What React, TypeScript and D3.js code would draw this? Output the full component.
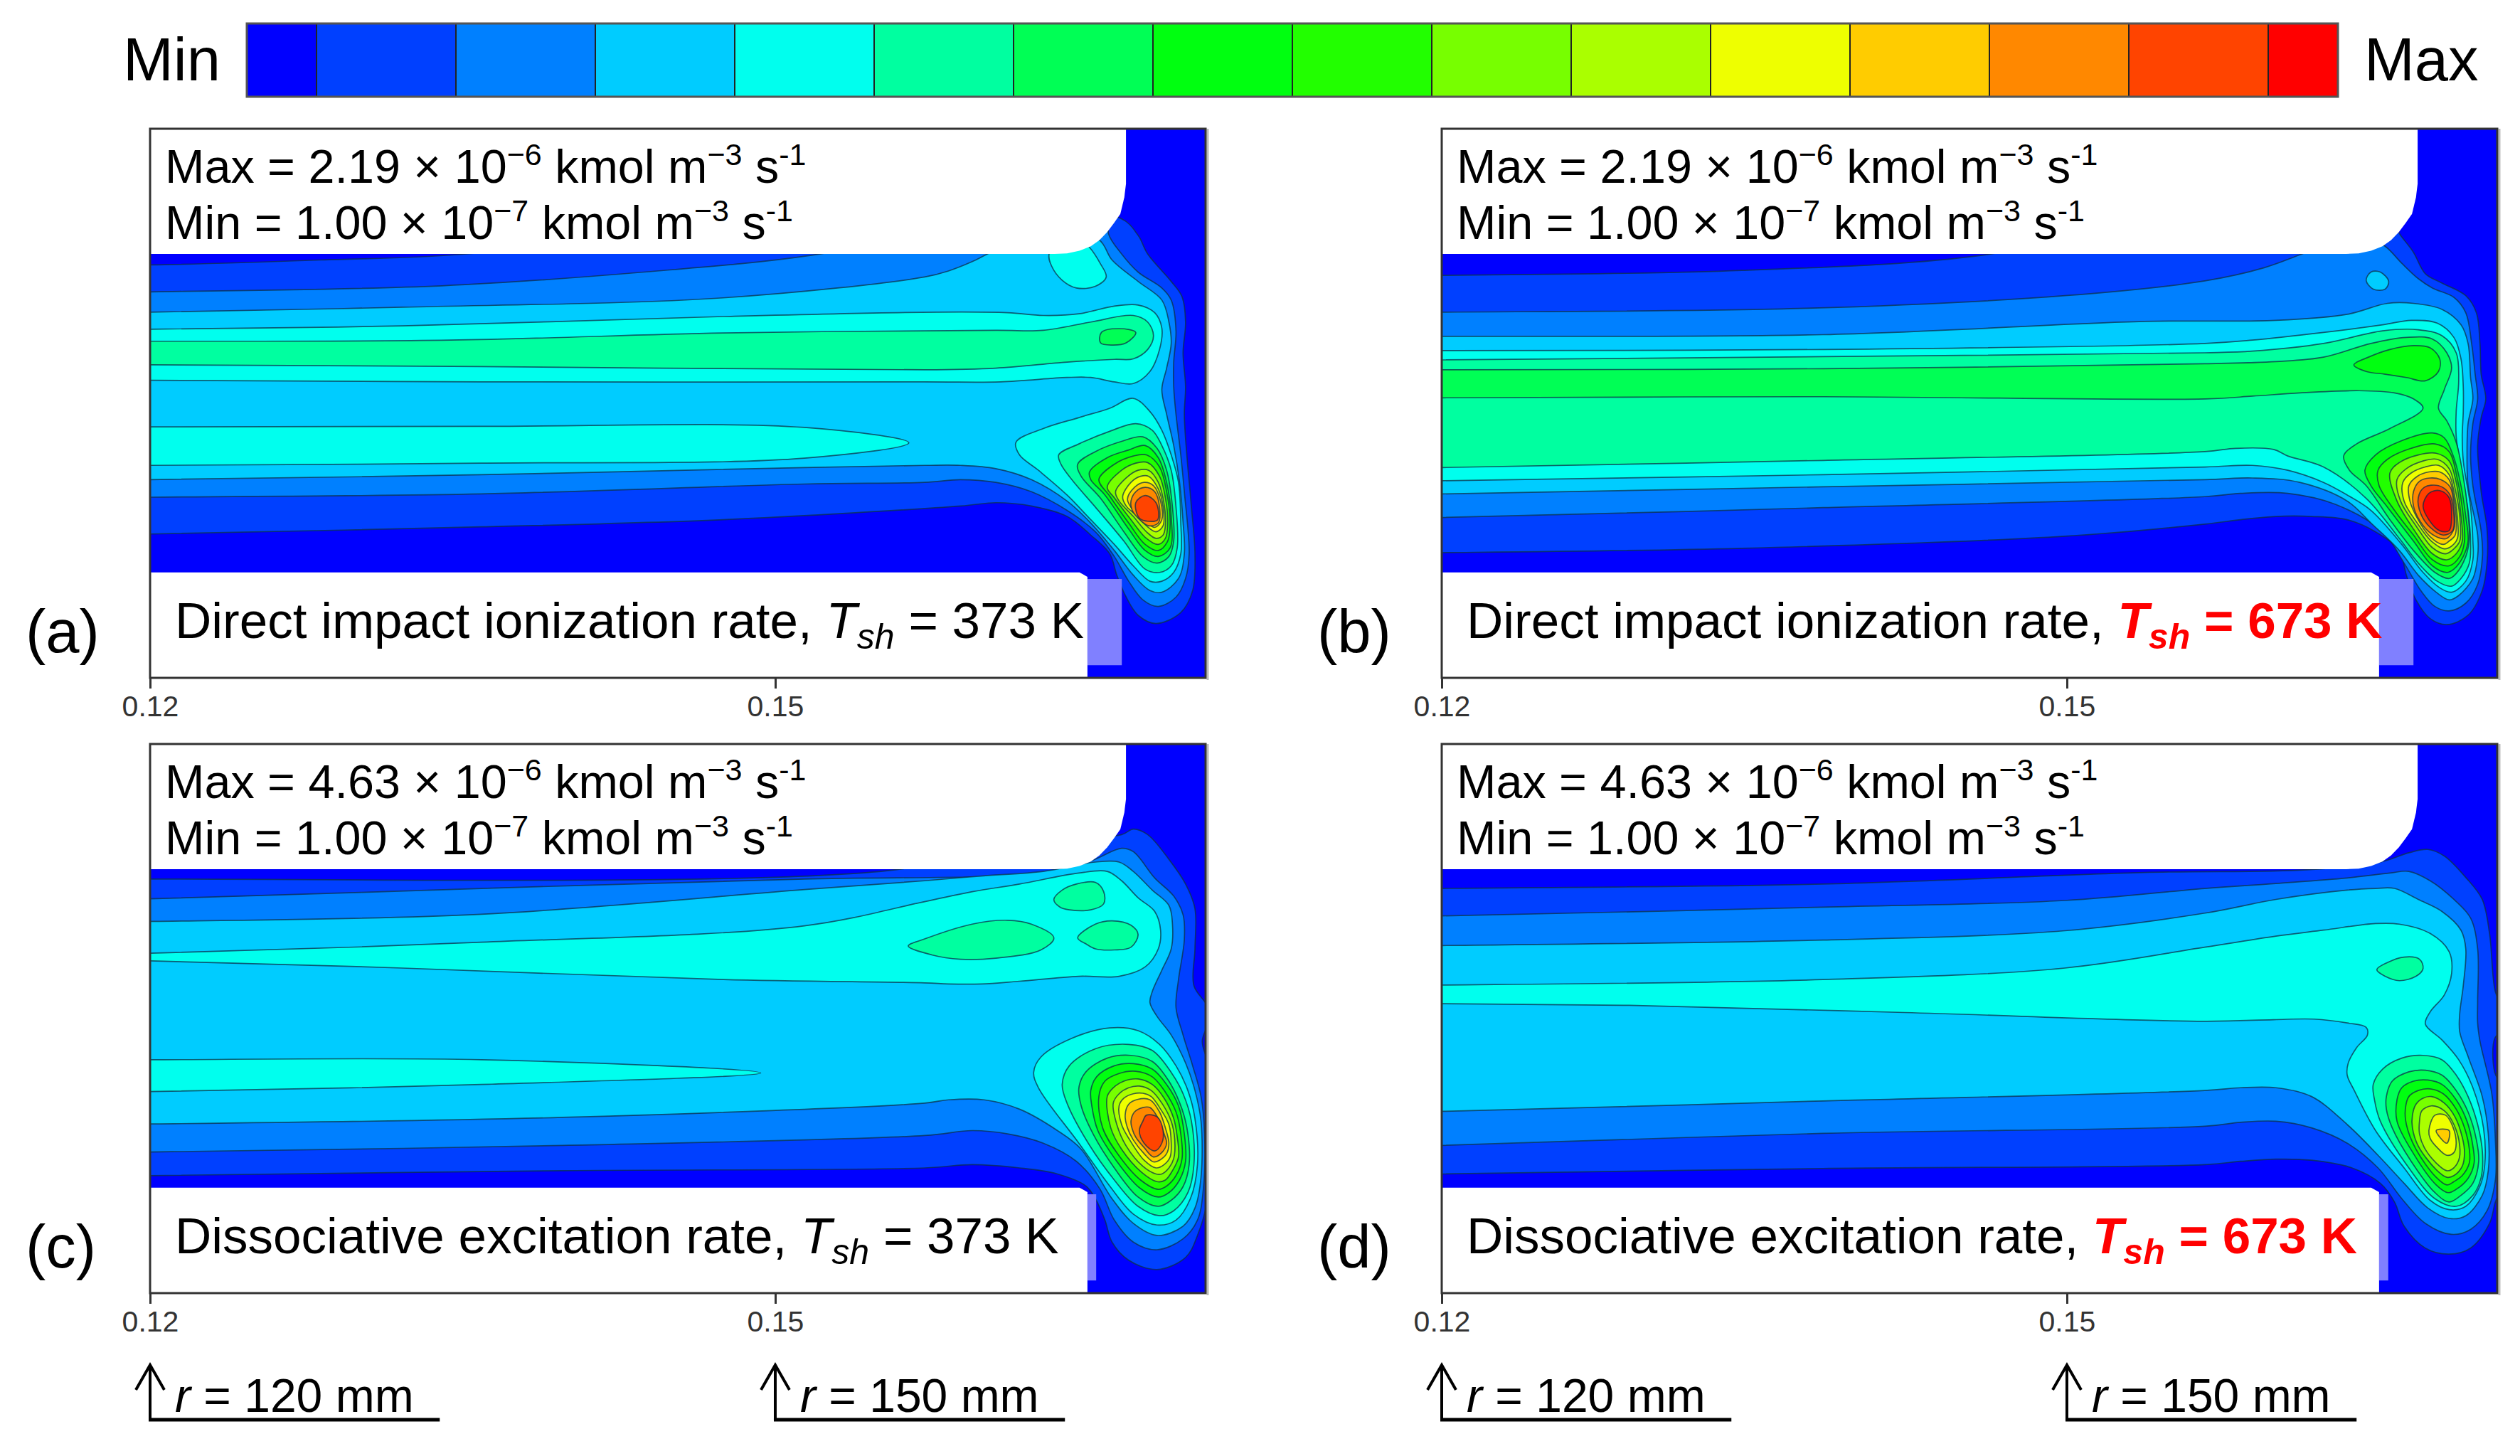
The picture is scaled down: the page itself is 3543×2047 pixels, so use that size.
import { useEffect, useRef } from 'react';
import * as d3 from 'd3';

type Pt = [number, number];
interface Contour {
  level: number;
  pts: Pt[];
}

// Colour bands of the legend, lowest to highest
const levelColors = [
  '#0000ff', '#0040ff', '#0080ff', '#00ccff', '#00ffee', '#00ffa0', '#00ff55', '#00ff10',
  '#22ff00', '#77ff00', '#aaff00', '#eeff00', '#ffcc00', '#ff8800', '#ff4400', '#ff0000',
];

const rTicks = [120, 150];
const rTickLabels = ['0.12', '0.15'];

const maxLabels = ['2.19', '2.19', '4.63', '4.63'];
const minLabels = ['1.00', '1.00', '1.00', '1.00'];
const captions = [
  'Direct impact ionization rate, ',
  'Direct impact ionization rate, ',
  'Dissociative excitation rate, ',
  'Dissociative excitation rate, ',
];
const sheathTemps = ['373', '673', '373', '673'];
const panelLetters = ['(a)', '(b)', '(c)', '(d)'];

// Contours: [r in mm, z in % of the plot height from its top edge]
const contoursA: Contour[] = [
  { level: 1, pts: [[116, 24.8], [120, 24.8], [128.2, 23.9], [135.2, 22.8], [145, 18], [160, 14], [166.56, 16.3], [167.41, 19.4], [167.87, 22.8], [169, 27.8], [169.52, 30.6], [169.69, 35.2], [169.57, 40.8], [169.69, 47], [169.63, 52], [169.75, 59.4], [169.97, 68.9], [170.14, 77.4], [170.03, 84.1], [169.46, 88.1], [168.27, 90.1], [167.41, 88.6], [166.84, 85.3], [166.39, 81.3], [166.05, 77.4], [165.14, 74], [164, 70.6], [162.29, 68.7], [160.6, 68.1], [158.9, 68.7], [147.5, 71.2], [135.9, 72.5], [120, 73.8], [116, 74]] },
  { level: 2, pts: [[116, 29.8], [120, 29.7], [134, 28.6], [143.7, 26.1], [151.8, 23], [160, 17], [166, 14], [165.99, 19.1], [166.62, 22.8], [167.41, 26.1], [168.55, 29], [169, 31.2], [169.23, 36.8], [169.12, 42.5], [169.12, 47], [169.23, 52], [169.46, 59.4], [169.63, 66.1], [169.86, 77.4], [169.69, 81.9], [169.23, 85.3], [168.38, 87], [167.64, 85.8], [166.96, 82.4], [166.27, 77.9], [165.36, 73.4], [164, 69.5], [162.29, 66.1], [160.58, 64.4], [158.88, 63.9], [157.17, 64.4], [151.4, 64.7], [135.9, 66.5], [120, 67.1], [116, 67.2]] },
  { level: 3, pts: [[116, 33.5], [120, 33.4], [132.1, 32.5], [147.5, 30.8], [157.17, 27], [158.31, 25.9], [159.45, 24.2], [160.19, 22.8], [163, 18], [165.53, 20.2], [166.16, 23.9], [167.41, 27.8], [168.55, 31.2], [168.89, 35.2], [169, 39.1], [168.78, 43.6], [168.55, 47.5], [168.78, 52], [169.12, 57.7], [169.4, 64.4], [169.57, 71.7], [169.63, 77.4], [169.35, 81.9], [168.55, 84.4], [167.98, 84.1], [167.18, 81.3], [166.27, 76.8], [165.14, 71.8], [164, 67.8], [162.29, 63.9], [160.58, 61.9], [158.88, 61.3], [157.17, 61.3], [151.4, 61.7], [135.9, 63], [120, 63.9], [116, 64]] },
  { level: 4, pts: [[163.14, 22.8], [163.26, 25], [163.77, 27.6], [164.45, 29], [165.36, 28.7], [165.88, 27], [165.59, 24.5], [165.08, 21.6], [164, 18]] },
  { level: 4, pts: [[116, 36.6], [120, 36.5], [132.1, 35.9], [147.5, 34.2], [157.74, 33.4], [161.15, 33.5], [162.86, 34], [164.57, 33.7], [166.27, 32.3], [167.41, 32.1], [168.21, 33.5], [168.55, 36.3], [168.44, 40.2], [167.98, 44.2], [167.18, 46.4], [166.27, 46.1], [165.14, 45.3], [164, 45.3], [160.81, 46.1], [157.17, 46.1], [135.9, 46.1], [120, 45.8], [116, 45.8]] },
  { level: 4, pts: [[116, 54.3], [120, 54.3], [135.9, 54.2], [151.4, 54.4], [156.41, 57.2], [151.4, 60], [135.9, 60.9], [120, 61.3], [116, 61.4]] },
  { level: 4, pts: [[161.55, 57.1], [162.86, 54.6], [164.57, 52.6], [166.05, 50.9], [167.18, 49.1], [167.98, 51.5], [168.55, 54.9], [169, 59.4], [169.35, 64.4], [169.46, 71.8], [169.46, 77.4], [169.12, 80.8], [168.55, 82.4], [167.98, 82.4], [167.18, 79.6], [166.27, 75.7], [165.14, 71.2], [164, 66.7], [162.63, 62.2], [161.72, 59.4]] },
  { level: 5, pts: [[116, 38.7], [120, 38.7], [134.4, 38.5], [147.5, 37.2], [160.58, 36.7], [162.86, 36.7], [165.14, 35.2], [167.18, 34], [167.87, 35.2], [168.15, 37.7], [167.87, 40.2], [167.18, 41.9], [166.27, 42], [164, 42.5], [160.58, 43.6], [157.17, 43.9], [135.9, 43.3], [120, 43], [116, 43]] },
  { level: 5, pts: [[163.6, 59.4], [164.57, 57.4], [166.05, 55.1], [167.3, 53.7], [168.09, 54.9], [168.55, 57.7], [169, 62.2], [169.23, 68.9], [169.29, 76.3], [169, 79.6], [168.44, 80.8], [167.75, 80.2], [166.73, 75.1], [165.36, 68.9], [164.23, 63.9], [163.71, 61.1]] },
  { level: 6, pts: [[165.65, 37.1], [166.5, 36.4], [167.3, 37.1], [166.84, 39], [166.16, 39.4], [165.61, 39]] },
  { level: 6, pts: [[164.51, 61.1], [165.36, 58.8], [166.73, 56.8], [167.64, 56.1], [168.32, 58.2], [168.78, 62.2], [169.06, 68.9], [169.12, 75.1], [168.89, 77.9], [168.32, 79.1], [167.64, 77.9], [166.73, 73.4], [165.59, 67.2], [164.68, 63.3]] },
  { level: 7, pts: [[165.08, 62.5], [165.93, 59.9], [166.96, 58.5], [167.75, 57.7], [168.38, 59.9], [168.78, 64.4], [169, 70.6], [168.95, 76.3], [168.38, 77.9], [167.75, 76.8], [166.96, 72.9], [165.82, 66.7], [165.14, 63.9]] },
  { level: 8, pts: [[165.53, 63.9], [166.27, 61.1], [167.18, 59.6], [167.81, 59.4], [168.44, 61.6], [168.78, 66.1], [168.95, 71.8], [168.83, 75.1], [168.38, 76.8], [167.75, 75.7], [166.96, 71.8], [166.05, 66.9]] },
  { level: 9, pts: [[165.93, 65.3], [166.62, 62.2], [167.3, 60.9], [167.87, 60.8], [168.44, 63.3], [168.72, 67.2], [168.83, 71.8], [168.72, 74.6], [168.38, 75.7], [167.81, 74.6], [167.07, 71.2], [166.27, 67.2]] },
  { level: 10, pts: [[166.33, 66.1], [166.84, 63.6], [167.41, 62.2], [167.92, 62.2], [168.38, 64.4], [168.66, 68.4], [168.72, 72.3], [168.61, 74], [168.27, 74.6], [167.81, 73.4], [167.18, 70.6], [166.5, 67.8]] },
  { level: 11, pts: [[166.67, 67], [167.07, 64.4], [167.53, 63.3], [167.92, 63.3], [168.38, 65.6], [168.61, 68.9], [168.61, 72.3], [168.27, 73.4], [167.81, 72.3], [167.3, 70.3], [166.84, 68.7]] },
  { level: 12, pts: [[166.9, 67.5], [167.24, 65.3], [167.7, 64.4], [168.15, 65], [168.49, 67.8], [168.55, 71.2], [168.21, 72.6], [167.75, 71.5], [167.24, 69.8]] },
  { level: 13, pts: [[167.07, 67.8], [167.3, 66.1], [167.75, 65.3], [168.21, 66.1], [168.44, 68.9], [168.38, 71.8], [167.92, 72.3], [167.41, 70.9], [167.13, 69.5]] },
  { level: 14, pts: [[167.3, 68.1], [167.75, 66.8], [168.27, 68.1], [168.35, 71.2], [167.92, 71.5], [167.47, 70.9]] },
];

const contoursB: Contour[] = [
  { level: 1, pts: [[116, 26.8], [120, 26.7], [134.4, 25.8], [146, 23], [155, 16], [165, 14], [166.01, 19.4], [166.63, 22.5], [167.2, 26.4], [168, 28.1], [169.14, 30.4], [169.65, 33.5], [169.82, 39.1], [169.88, 44.7], [170.1, 49.2], [169.88, 52.6], [169.71, 57.7], [169.88, 66.1], [170.16, 72.9], [170.16, 79.1], [169.93, 84.1], [169.25, 88.6], [168.23, 90.3], [167.43, 89.2], [166.75, 85.8], [166.29, 81.3], [165.95, 76.8], [164.81, 73.4], [163.45, 71.2], [161.74, 70.6], [160.03, 70.6], [158.33, 71.2], [156.62, 72], [149.9, 74.2], [134.4, 76.4], [120, 77.2], [116, 77.3]] },
  { level: 2, pts: [[116, 33.5], [120, 33.4], [137.5, 32.7], [149.9, 30.4], [156.62, 27.7], [159.47, 25.3], [161.29, 22.8], [164, 19], [165.27, 21.4], [166.07, 24.5], [166.86, 27.3], [167.54, 29], [168.57, 30.7], [169.14, 33.5], [169.42, 39.1], [169.59, 44.7], [169.71, 49.2], [169.48, 53.7], [169.37, 59.4], [169.48, 65], [169.88, 73.4], [169.94, 77.9], [169.71, 83], [169.14, 86.4], [168.34, 87.8], [167.66, 87], [166.98, 84.1], [166.18, 79.1], [165.15, 73.4], [162.88, 68.4], [160.6, 66.4], [158.33, 66.4], [156.62, 67], [138.3, 69], [120, 70.8], [116, 70.9]] },
  { level: 3, pts: [[116, 37.8], [120, 37.8], [138.3, 37.5], [153.7, 35.1], [160.03, 34.9], [163.45, 33.8], [165.38, 31.8], [166.63, 31.8], [168, 32.9], [168.91, 35.7], [169.25, 39.1], [169.37, 45.3], [169.48, 49.2], [169.25, 53.7], [169.2, 59.4], [169.25, 65], [169.71, 74], [169.71, 77.9], [169.48, 81.9], [168.8, 85], [168.34, 85.8], [167.72, 84.4], [166.86, 81.3], [165.95, 76.8], [164.59, 71.8], [163.45, 67.8], [161.17, 64.4], [158.9, 63.6], [156.62, 63.9], [138.3, 65.2], [120, 66.5], [116, 66.6]] },
  { level: 3, pts: [[164.36, 27.6], [164.59, 26.1], [165.04, 26.1], [165.44, 27.8], [165.27, 29.2], [164.7, 29.2]] },
  { level: 4, pts: [[116, 40.4], [120, 40.4], [138.3, 40.2], [156.62, 39.1], [158.9, 38.5], [162.31, 37.1], [165.15, 35.7], [166.52, 34.9], [167.77, 35.4], [168.57, 38], [168.91, 41.9], [169.02, 47], [169.02, 51.5], [168.97, 56], [169.02, 60.5], [169.37, 68.9], [169.48, 75.1], [169.48, 78.5], [169.14, 82.4], [168.46, 84.4], [167.89, 83.6], [167.09, 80.8], [166.07, 75.7], [164.59, 69.5], [163.45, 66.7], [162.31, 64.4], [160.6, 62.2], [158.9, 61.3], [156.62, 61.6], [138.3, 63], [120, 64.1], [116, 64.2]] },
  { level: 5, pts: [[116, 42.1], [120, 42.1], [138.3, 41.5], [156.62, 40.8], [158.9, 40.5], [162.31, 39.1], [165.15, 36.8], [166.86, 36.6], [168, 37.7], [168.68, 40.8], [168.8, 45.9], [168.68, 51.5], [168.68, 56], [168.85, 60.5], [169.25, 69.5], [169.37, 75.1], [169.31, 79.1], [168.91, 81.9], [168.46, 83.3], [167.77, 82.4], [166.86, 79.1], [165.95, 74.6], [164.36, 67.3], [162.31, 61.6], [160.6, 59.6], [159.92, 58.4], [158.1, 58.2], [156.62, 58.8], [138.3, 60.4], [120, 61.7], [116, 61.8]] },
  { level: 6, pts: [[116, 43.9], [120, 43.9], [138.3, 43.7], [156.62, 42.8], [160.03, 42.4], [162.31, 41.6], [164.59, 39.1], [166.29, 38], [167.54, 38.3], [168.23, 40.8], [168.46, 43.6], [168.11, 47.5], [167.83, 50.9], [168.23, 53.2], [168.68, 57.1], [168.97, 62.2], [169.25, 70.1], [169.31, 74.6], [169.14, 77.9], [168.68, 81], [168.34, 81.9], [167.66, 80.8], [166.63, 76.8], [165.5, 71.2], [164.36, 65], [163.56, 62.2], [163.28, 59.6], [163.9, 57.4], [165.5, 54.6], [167.09, 50.9], [166.63, 49.2], [165.72, 48.1], [164.02, 47.7], [161.17, 48.1], [158.9, 48.7], [156.62, 49.2], [138.3, 48.8], [120, 49], [116, 49]] },
  { level: 7, pts: [[163.77, 43], [164.47, 41.6], [165.5, 40.2], [166.63, 39.5], [167.43, 39.9], [167.89, 41.9], [167.83, 44.2], [167.2, 45.9], [166.29, 45.3], [165.27, 44.7], [164.36, 44.2]] },
  { level: 7, pts: [[164.3, 62.2], [164.81, 59.4], [166.07, 56.8], [167.54, 55.4], [168.11, 56.3], [168.57, 59.9], [168.91, 65], [169.14, 70.6], [169.25, 75.1], [169.02, 77.9], [168.57, 80.2], [168.23, 80.8], [167.54, 79.6], [166.63, 75.1], [165.38, 68.9], [164.59, 65]] },
  { level: 8, pts: [[164.93, 62.2], [165.38, 60.2], [166.52, 58.2], [167.66, 57.4], [168.34, 58.8], [168.74, 63.9], [169.02, 70.6], [169.08, 75.1], [168.85, 77.9], [168.34, 79.6], [167.54, 78.5], [166.63, 74], [165.72, 69.5], [164.98, 65]] },
  { level: 9, pts: [[165.5, 62.7], [165.95, 60.8], [166.86, 59.4], [167.72, 59.1], [168.34, 60.5], [168.68, 64.4], [168.91, 70.6], [168.97, 75.1], [168.68, 77.4], [168.23, 78.5], [167.54, 77.4], [166.63, 72.9], [165.84, 67.8]] },
  { level: 10, pts: [[165.84, 63.9], [166.29, 61.9], [167.09, 60.5], [167.77, 60.2], [168.34, 61.9], [168.63, 65.6], [168.85, 70.6], [168.85, 75.1], [168.57, 76.5], [168.17, 77.4], [167.54, 76.3], [166.75, 72.3], [166.01, 67.8]] },
  { level: 11, pts: [[166.12, 64.4], [166.52, 62.7], [167.2, 61.6], [167.83, 61.3], [168.34, 63], [168.57, 66.1], [168.74, 70.9], [168.74, 74.6], [168.46, 76], [168.11, 76.5], [167.49, 75.1], [166.81, 71.8], [166.18, 67.8]] },
  { level: 12, pts: [[166.41, 65], [166.81, 63.3], [167.37, 62.5], [167.89, 62.5], [168.34, 63.9], [168.57, 67.2], [168.68, 70.9], [168.63, 74], [168.34, 75.1], [168.06, 75.7], [167.43, 74.3], [166.81, 70.9], [166.46, 67.8]] },
  { level: 13, pts: [[166.63, 66.1], [166.92, 64.2], [167.43, 63.6], [167.94, 63.9], [168.4, 65.3], [168.57, 68.9], [168.57, 72.9], [168.23, 74.6], [167.94, 74.6], [167.37, 73.4], [166.86, 70.9], [166.63, 68.7]] },
  { level: 14, pts: [[166.86, 67.2], [167.15, 65.3], [167.83, 65], [168.34, 66.4], [168.55, 69.5], [168.51, 73.2], [168.06, 74], [167.43, 72.6], [166.98, 70.1]] },
  { level: 15, pts: [[167.09, 68.7], [167.37, 66.4], [167.89, 65.9], [168.34, 67.2], [168.46, 70.6], [168.34, 73.2], [167.89, 73.2], [167.37, 71.2]] },
];

const contoursC: Contour[] = [
  { level: 1, pts: [[116, 24.7], [120, 24.6], [155.3, 23.1], [162, 18], [166.62, 16.5], [167.18, 15.5], [167.87, 16.5], [168.89, 21], [169.69, 25.5], [170.14, 30], [170.14, 37.3], [170.09, 44], [170.77, 48], [170.77, 50.8], [170.49, 54.1], [170.77, 58.6], [170.77, 82.2], [170.26, 89.5], [169.69, 93.5], [168.32, 95.7], [166.96, 94], [166.16, 90.7], [165.82, 86.7], [165.36, 82.8], [164.91, 80.5], [163.54, 78.3], [161.72, 77.2], [159.45, 76.6], [157.17, 77.2], [139.8, 77.7], [120, 78.6], [116, 78.7]] },
  { level: 2, pts: [[116, 28.3], [120, 28.2], [135.9, 26.3], [151.4, 24.6], [163, 23.4], [165.14, 21.3], [166.62, 19], [167.18, 19.6], [168.21, 24.4], [169.12, 27.7], [169.57, 31.1], [169.63, 35.6], [169.35, 42.9], [169.23, 48], [169.57, 53], [170.03, 58.6], [170.43, 64.2], [170.6, 71], [170.54, 81.1], [170.26, 86.7], [169.57, 90.1], [168.32, 92.1], [167.18, 90.7], [166.27, 86.7], [165.59, 81.1], [164.45, 76], [162.86, 72.7], [161.15, 71], [159.45, 70.4], [157.17, 71.3], [139.8, 73.1], [120, 74.3], [116, 74.4]] },
  { level: 3, pts: [[116, 32.4], [120, 32.3], [135.9, 31], [151.4, 26.5], [157.17, 24.9], [160, 24], [162.86, 23.2], [165.36, 21.5], [166.5, 21.5], [167.18, 23.2], [168.09, 26.6], [168.89, 29.4], [169.06, 32.8], [169, 37.3], [168.55, 41.2], [168.09, 45.1], [167.98, 47.1], [168.32, 49.6], [169, 53], [169.69, 58.1], [170.14, 63.1], [170.43, 68.7], [170.43, 78.9], [170.14, 84.5], [169.57, 87.8], [168.32, 89.5], [167.18, 87.3], [166.16, 82.8], [164.68, 73.8], [163.54, 70.4], [161.72, 66.5], [160.02, 64.8], [158.31, 64.8], [157.17, 65.4], [139.8, 68], [120, 69.2], [116, 69.3]] },
  { level: 4, pts: [[116, 38.2], [120, 38.1], [135.9, 36.1], [151.4, 33.1], [157.17, 28.7], [159.45, 26.9], [161.72, 25.5], [164.57, 23.5], [165.93, 23.2], [166.62, 24.9], [167.41, 28], [168.21, 30.5], [168.49, 33.9], [168.38, 37.3], [167.75, 40.6], [166.5, 42.3], [164.57, 42.3], [161.72, 43.2], [159.9, 43.7], [158.31, 43.7], [157.17, 43.5], [147.5, 42.9], [132.1, 40.8], [120, 39.5], [116, 39.4]] },
  { level: 4, pts: [[116, 57.5], [120, 57.5], [135.9, 57.5], [149.3, 59.9], [135.9, 62], [120, 63.3], [116, 63.4]] },
  { level: 4, pts: [[162.4, 59.8], [162.75, 57], [164.23, 53.6], [166.05, 51.7], [167.41, 52.2], [168.44, 54.7], [169.23, 58.6], [169.8, 63.1], [170.14, 68.2], [170.26, 76.6], [169.92, 82.8], [169.23, 86.7], [168.32, 87.6], [167.18, 85.6], [166.05, 80.5], [164.57, 72.7], [162.63, 62.6]] },
  { level: 5, pts: [[163.37, 28.3], [163.77, 26.6], [164.45, 25.5], [165.36, 25.2], [165.76, 26.9], [165.76, 29.1], [165.14, 30.2], [164.11, 30.2], [163.66, 29.7]] },
  { level: 5, pts: [[164.51, 35.3], [165.36, 32.8], [166.16, 32.2], [167.07, 33], [167.41, 34.7], [167.07, 37], [166.27, 37.5], [165.36, 37.3], [164.91, 36.4]] },
  { level: 5, pts: [[156.38, 36.8], [157.17, 35.5], [159.45, 32.8], [161.15, 32.1], [162.29, 32.8], [163.37, 35.3], [162.75, 37.5], [160.58, 39], [158.88, 39.2], [157.51, 38.4]] },
  { level: 5, pts: [[163.77, 62], [164.11, 58.6], [165.36, 55.5], [166.96, 54.7], [168.09, 55.8], [169, 59.8], [169.57, 63.7], [169.97, 68.7], [170.09, 76.6], [169.8, 81.7], [169.12, 85], [168.44, 85.9], [167.41, 84.2], [166.27, 79.4], [165.02, 72.7], [164, 65.4]] },
  { level: 6, pts: [[164.57, 62.6], [164.91, 59.7], [165.93, 57.2], [167.07, 56.7], [168.09, 57.8], [168.89, 61.4], [169.52, 66.5], [169.8, 71], [169.86, 76.6], [169.57, 80.6], [169, 83.1], [168.38, 84.2], [167.41, 82.5], [166.27, 77.2], [165.25, 71], [164.68, 65.9]] },
  { level: 7, pts: [[165.14, 63.1], [165.42, 60.6], [166.27, 58.6], [167.18, 58.2], [168.09, 59.2], [168.78, 62], [169.35, 65.9], [169.63, 71], [169.69, 76], [169.4, 79.4], [168.89, 81.7], [168.38, 82.5], [167.47, 80.8], [166.39, 76], [165.48, 70.4], [165.19, 65.9]] },
  { level: 8, pts: [[165.53, 64.2], [165.82, 61.4], [166.5, 60], [167.3, 59.6], [168.09, 60.6], [168.72, 63.4], [169.23, 67], [169.46, 71], [169.52, 75.5], [169.23, 78.6], [168.78, 80.5], [168.38, 81.1], [167.53, 79.4], [166.5, 75], [165.71, 69.9]] },
  { level: 9, pts: [[165.93, 64.2], [166.22, 62.6], [166.73, 61.4], [167.41, 61], [168.09, 62], [168.66, 64.5], [169.12, 68.2], [169.29, 71.6], [169.35, 75.2], [169.06, 77.7], [168.72, 79.4], [168.32, 79.7], [167.58, 78], [166.62, 73.8], [166.1, 69.9]] },
  { level: 10, pts: [[166.22, 65.4], [166.5, 63.7], [166.96, 62.6], [167.47, 62.3], [168.04, 63.1], [168.55, 65.4], [169, 68.7], [169.17, 72.1], [169.12, 75.5], [168.89, 77.2], [168.55, 78.3], [168.27, 78.3], [167.64, 76.9], [166.84, 73.2], [166.39, 69.3]] },
  { level: 11, pts: [[166.5, 65.9], [166.73, 64.5], [167.18, 63.7], [167.64, 63.6], [168.04, 64.2], [168.49, 66.5], [168.89, 69.3], [169, 72.7], [168.95, 75.2], [168.66, 76.6], [168.27, 77.2], [167.7, 75.8], [167.01, 72.1], [166.62, 69.3]] },
  { level: 12, pts: [[166.79, 67.6], [166.96, 65.6], [167.41, 64.7], [167.98, 64.8], [168.44, 67], [168.72, 69.9], [168.89, 72.7], [168.78, 74.6], [168.44, 75.8], [168.15, 76.1], [167.7, 74.6], [167.18, 72.1], [166.9, 69.9]] },
  { level: 13, pts: [[167.07, 68.7], [167.24, 67], [167.64, 66.2], [167.98, 66.2], [168.38, 68.2], [168.66, 71], [168.78, 72.7], [168.55, 74.4], [168.15, 75.2], [167.7, 73.5], [167.3, 71.6], [167.13, 70.1]] },
  { level: 14, pts: [[167.47, 70.4], [167.64, 68.7], [167.81, 67.6], [168.32, 67.9], [168.61, 70.4], [168.55, 72.7], [168.21, 74.1], [167.7, 72.7]] },
];

const contoursD: Contour[] = [
  { level: 1, pts: [[116, 26.4], [120, 26.3], [138.3, 25.5], [153.7, 23.4], [161.5, 22.9], [165.04, 21.5], [166.41, 19.8], [167.32, 19.2], [168.11, 20.4], [169.14, 24.3], [169.93, 28.3], [170.28, 34.5], [170.56, 45.1], [170.96, 48.5], [170.96, 51.9], [170.53, 53.6], [170.53, 59.8], [170.96, 63.1], [170.96, 79.4], [170.56, 83.4], [170.28, 87.3], [169.37, 91.8], [168.34, 92.9], [167.2, 91.8], [166.18, 87.8], [165.72, 83.4], [165.04, 80], [163.68, 77.2], [161.74, 75.8], [160.03, 75.6], [158.33, 76], [156.62, 76.6], [138.3, 77.3], [120, 78.3], [116, 78.4]] },
  { level: 2, pts: [[116, 31.4], [120, 31.3], [138.3, 29.7], [149.9, 28.5], [156.62, 26.3], [160.03, 25.4], [163.45, 24.4], [165.5, 23.5], [166.41, 23.2], [167.43, 24.9], [168.57, 28.3], [169.37, 31.7], [169.71, 37.3], [169.71, 46.8], [169.71, 50.8], [169.82, 54.1], [170.39, 63.7], [170.56, 72.1], [170.56, 79.4], [170.16, 85], [169.37, 88.4], [168.45, 89.3], [167.2, 87.3], [166.07, 82.8], [164.93, 77.2], [163.45, 72.7], [161.74, 69.9], [160.03, 68.7], [158.33, 68.9], [156.62, 69.6], [138.3, 70.9], [120, 73.1], [116, 73.2]] },
  { level: 3, pts: [[116, 36.8], [120, 36.7], [138.3, 35.7], [149.9, 34], [156.62, 30.8], [160.03, 28.3], [163.45, 26.6], [164.81, 26.3], [165.72, 26.3], [166.86, 28.3], [168, 30.5], [168.91, 33.9], [169.14, 37.3], [169.02, 44], [168.85, 49.1], [168.85, 52.4], [169.25, 56.9], [169.93, 64.2], [170.22, 71], [170.22, 77.7], [169.93, 82.2], [169.14, 85.9], [168.34, 86.4], [167.32, 84.5], [166.18, 80], [164.93, 74.9], [163.45, 69.3], [161.74, 64.2], [160.03, 62.6], [158.33, 62.6], [156.62, 63.1], [138.3, 65], [120, 66.9], [116, 67]] },
  { level: 4, pts: [[116, 44], [120, 43.9], [138.3, 42.9], [149.9, 40.8], [156.62, 37], [160.03, 35], [162.31, 33.9], [164.81, 32.7], [165.95, 32.8], [167.43, 34.5], [168.34, 37.8], [168.46, 41.8], [168.11, 45.7], [167.43, 48.8], [167.2, 51], [168, 53.9], [168.8, 57.5], [169.48, 62.6], [169.99, 69.9], [170.05, 76.6], [169.82, 80.5], [169.14, 84.2], [168.34, 84.8], [167.43, 83.1], [166.18, 77.2], [164.81, 70.4], [163.79, 63.1], [163.45, 60.3], [163.5, 58.1], [163.9, 55.3], [164.42, 53], [164.36, 51.6], [163.45, 50.8], [161.85, 50.1], [159.92, 50.2], [156.62, 50.5], [142.2, 48.9], [129, 47.6], [120, 47.3], [116, 47.3]] },
  { level: 5, pts: [[164.87, 41.1], [165.38, 39.8], [166.18, 38.8], [166.92, 39.2], [167.09, 40.9], [166.75, 42.3], [165.95, 43.1], [165.27, 42.3]] },
  { level: 5, pts: [[164.7, 62], [165.15, 59.2], [166.07, 57.2], [167.09, 56.7], [168, 57.5], [168.68, 60.3], [169.25, 64.2], [169.71, 69.3], [169.94, 74.4], [169.88, 78.9], [169.48, 82.2], [168.68, 84.2], [167.66, 82.8], [166.41, 77.2], [165.04, 68.7], [164.76, 64.8]] },
  { level: 6, pts: [[165.33, 64.2], [165.61, 61.4], [166.41, 59.7], [167.2, 59.4], [168, 60.3], [168.68, 63.1], [169.25, 67], [169.65, 72.1], [169.76, 76], [169.48, 80], [168.91, 82.2], [168.34, 83.4], [167.66, 81.7], [166.52, 76], [165.61, 69.9], [165.33, 66.5]] },
  { level: 7, pts: [[165.84, 64.8], [166.07, 62.6], [166.63, 61.4], [167.32, 61.2], [168, 62], [168.68, 64.8], [169.2, 68.7], [169.48, 73.2], [169.54, 76.3], [169.25, 79.1], [168.68, 81.1], [168.28, 81.7], [167.72, 80.3], [166.63, 74.6], [165.84, 68.7]] },
  { level: 8, pts: [[166.24, 66.5], [166.41, 64.2], [166.86, 63.1], [167.43, 62.8], [168.06, 63.7], [168.68, 66.5], [169.08, 69.9], [169.31, 73.8], [169.31, 76.3], [168.97, 78.6], [168.57, 79.7], [168.23, 80.3], [167.72, 78.9], [166.75, 73.8], [166.29, 69.3]] },
  { level: 9, pts: [[166.58, 67.6], [166.75, 65.6], [167.09, 64.5], [167.49, 64.2], [168.11, 65.4], [168.62, 67.9], [168.97, 71.6], [169.08, 74.4], [168.97, 76.9], [168.57, 78.6], [168.23, 78.9], [167.72, 77.5], [166.86, 73.2], [166.58, 69.9]] },
  { level: 10, pts: [[166.92, 68.7], [167.03, 66.8], [167.49, 65.9], [168.11, 66.8], [168.57, 69.3], [168.85, 73.2], [168.8, 75.8], [168.46, 77.5], [168.23, 77.7], [167.72, 76.3], [167.15, 73.5], [166.92, 71]] },
  { level: 11, pts: [[167.37, 70.4], [167.66, 67.6], [168.17, 67.6], [168.51, 69.6], [168.68, 72.7], [168.57, 74.4], [168.23, 74.9], [167.77, 73.5], [167.43, 71.8]] },
  { level: 12, pts: [[167.72, 70.4], [168.34, 70.4], [168.23, 72.7]] },
];

const panelContours = [contoursA, contoursB, contoursC, contoursD];

// White masks over the electrode and caption areas, same axes as the contours
const topMask: Pt[] = [[120, 0], [166.83, 0], [166.83, 10], [166.75, 12.5], [166.56, 15.5], [166.25, 17.2], [165.93, 18.8], [165.55, 20.3], [165.14, 21.4], [164.6, 22.2], [164, 22.7], [163.4, 22.8], [120, 22.8]];
const bottomMask: Pt[] = [[120, 80.8], [164.6, 80.8], [164.98, 81.6], [164.98, 100], [120, 100]];
const stripEnds = [166.63, 166.63, 165.4, 165.42];

const font = "'Liberation Sans', Arial, sans-serif";
const plotHeight = 772;

const xScale = d3.scaleLinear().domain([120, 170.65]).range([0, 1484]);
const yScale = d3.scaleLinear().domain([0, 100]).range([0, plotHeight]);
const legendScale = d3.scaleLinear().domain([0, 15]).range([347, 3287]);

const contourPath = d3.line<Pt>()
  .x(d => xScale(d[0]))
  .y(d => yScale(d[1]))
  .curve(d3.curveCatmullRomClosed.alpha(0.5));
const maskPath = d3.line<Pt>()
  .x(d => xScale(d[0]))
  .y(d => yScale(d[1]));

function RateLine({ y, label, value, exp }: { y: number; label: string; value: string; exp: string }) {
  return (
    <text x={21} y={y} fontFamily={font} fontSize={66.5} fill="#000">
      {label} = {value} × 10
      <tspan dy={-25} fontSize={43}>{exp}</tspan>
      <tspan dy={25}> kmol m</tspan>
      <tspan dy={-25} fontSize={43}>−3</tspan>
      <tspan dy={25}> s</tspan>
      <tspan dy={-25} fontSize={43}>-1</tspan>
    </text>
  );
}

function Panel({ index, left, top }: { index: number; left: number; top: number }) {
  const axisRef = useRef<SVGGElement>(null);
  const hot = sheathTemps[index] === '673';
  const clip = `plot-${index}`;
  const plotWidth = xScale.range()[1];

  useEffect(() => {
    if (!axisRef.current) return;
    const g = d3.select(axisRef.current);
    g.selectAll('*').remove();
    g.call(
      d3.axisBottom(xScale)
        .tickValues(rTicks)
        .tickFormat((_, i) => rTickLabels[i])
        .tickSize(15)
        .tickSizeOuter(0)
        .tickPadding(10)
    );
    g.select('.domain').remove();
    g.selectAll('line').attr('stroke', '#333').attr('stroke-width', 3);
    g.selectAll('text')
      .style('font-size', '41px')
      .style('font-family', font)
      .style('fill', '#333');
  }, []);

  return (
    <g transform={`translate(${left},${top})`}>
      <clipPath id={clip}>
        <rect x={0} y={0} width={plotWidth} height={plotHeight} />
      </clipPath>
      <g clipPath={`url(#${clip})`}>
        <rect x={0} y={0} width={plotWidth} height={plotHeight} fill={levelColors[0]} />
        {panelContours[index].map((c, i) => (
          <path
            key={i}
            d={contourPath(c.pts) || ''}
            fill={levelColors[c.level]}
            stroke="#0c3048"
            strokeOpacity={0.75}
            strokeWidth={1.7}
          />
        ))}
        <path d={(maskPath(topMask) || '') + 'Z'} fill="#fff" />
        <rect
          x={xScale(164.98)}
          y={yScale(82)}
          width={xScale(stripEnds[index]) - xScale(164.98)}
          height={yScale(97.7) - yScale(82)}
          fill="#8080ff"
        />
        <path d={(maskPath(bottomMask) || '') + 'Z'} fill="#fff" />
      </g>
      {/* frame with the soft grey edge of the original */}
      <line x1={plotWidth + 3} x2={plotWidth + 3} y1={0} y2={plotHeight + 3} stroke="#bbb" strokeWidth={3} />
      <rect x={0} y={0} width={plotWidth} height={plotHeight} fill="none" stroke="#333" strokeWidth={3} />
      <g ref={axisRef} transform={`translate(0,${plotHeight})`} />

      <RateLine y={76} label="Max" value={maxLabels[index]} exp="−6" />
      <RateLine y={155} label="Min" value={minLabels[index]} exp="−7" />

      <text x={35} y={716} fontFamily={font} fontSize={71} fill="#000">
        {captions[index]}
        <tspan
          fill={hot ? '#ff0000' : '#000'}
          fontWeight={hot ? 'bold' : 'normal'}
        >
          <tspan fontStyle="italic">T</tspan>
          <tspan fontStyle="italic" fontSize={50} dy={15}>sh</tspan>
          <tspan dy={-15}> = {sheathTemps[index]} K</tspan>
        </tspan>
      </text>
      <text x={-175} y={736} fontFamily={font} fontSize={85} fill="#000">{panelLetters[index]}</text>
    </g>
  );
}

function RadiusMark({ r, left, y }: { r: number; left: number; y: number }) {
  const x = left + xScale(r);
  return (
    <g fill="none" stroke="#000">
      <path d={`M${x},${y}V${y - 75}M${x - 20},${y - 42}L${x},${y - 77}L${x + 20},${y - 42}`} strokeWidth={4} />
      <line x1={x - 2} x2={x + xScale(133.9) - xScale(120)} y1={y} y2={y} strokeWidth={5} />
      <text x={x + 35} y={y - 11} fontFamily={font} fontSize={66} fill="#000" stroke="none">
        <tspan fontStyle="italic">r</tspan> = {r} mm
      </text>
    </g>
  );
}

export default function App() {
  const levels = d3.range(levelColors.length);
  return (
    <svg
      width={3543}
      height={2047}
      viewBox="0 0 3543 2047"
      style={{ position: 'absolute', left: 0, top: 0, display: 'block', background: '#fff' }}
    >
      {/* legend */}
      <text x={173} y={113} fontFamily={font} fontSize={85}>Min</text>
      <text x={3324} y={113} fontFamily={font} fontSize={85}>Max</text>
      {levels.map(l => {
        const x0 = legendScale(Math.max(l - 0.5, 0));
        const x1 = legendScale(Math.min(l + 0.5, 15));
        return <rect key={l} x={x0} y={33} width={x1 - x0} height={103} fill={levelColors[l]} stroke="#222" strokeWidth={2} />;
      })}
      <rect x={legendScale(0)} y={33} width={legendScale(15) - legendScale(0)} height={103} fill="none" stroke="#555" strokeWidth={3} />

      <Panel index={0} left={211} top={181} />
      <Panel index={1} left={2027} top={181} />
      <Panel index={2} left={211} top={1046} />
      <Panel index={3} left={2027} top={1046} />

      {rTicks.map(r => <RadiusMark key={`l${r}`} r={r} left={211} y={1996} />)}
      {rTicks.map(r => <RadiusMark key={`r${r}`} r={r} left={2027} y={1996} />)}
    </svg>
  );
}
